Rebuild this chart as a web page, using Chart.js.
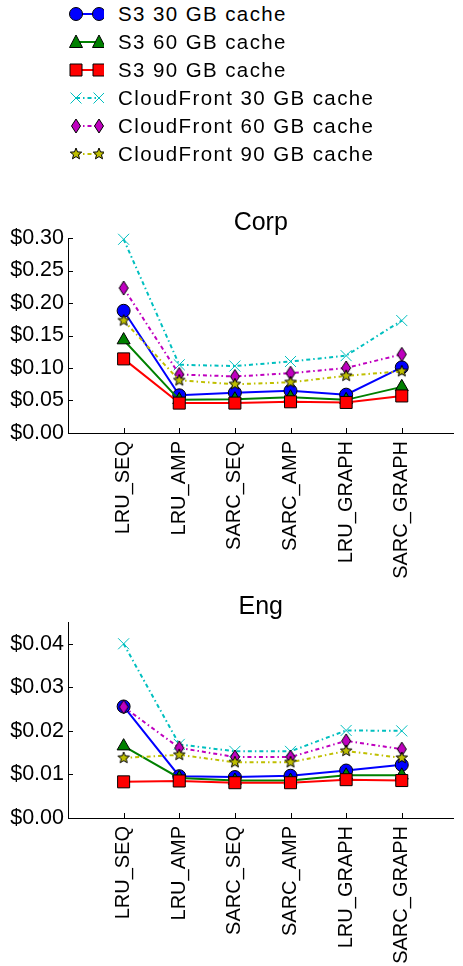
<!DOCTYPE html>
<html>
<head>
<meta charset="utf-8">
<script src="https://cdn.jsdelivr.net/npm/chart.js@4.4.1/dist/chart.umd.min.js"></script>
<style>
  body { margin: 0; background: #fff; width: 463px; height: 966px; overflow: hidden;
         font-family: "Liberation Sans", Arial, sans-serif; position: relative; }
  .row { position: absolute; left: 68px; height: 28px; display: flex; align-items: center;
         font-size: 20.5px; letter-spacing: 1.4px; color: #000; white-space: nowrap; }
  .row canvas { margin-right: 14px; }
  .box { position: absolute; left: 0; width: 463px; }
</style>
</head>
<body>
<div id="legend"></div>
<div class="box" style="top:190px;height:400px"><canvas id="corp" width="463" height="400"></canvas></div>
<div class="box" style="top:590px;height:376px"><canvas id="eng" width="463" height="376"></canvas></div>
<script>
// data
const categories = ["LRU_SEQ", "LRU_AMP", "SARC_SEQ", "SARC_AMP", "LRU_GRAPH", "SARC_GRAPH"]
const seriesNames = ["S3 30 GB cache", "S3 60 GB cache", "S3 90 GB cache",
  "CloudFront 30 GB cache", "CloudFront 60 GB cache", "CloudFront 90 GB cache"]

const corpS3_30 = [0.188, 0.058, 0.062, 0.065, 0.059, 0.101]
const corpS3_60 = [0.143, 0.051, 0.052, 0.055, 0.051, 0.071]
const corpS3_90 = [0.114, 0.046, 0.046, 0.048, 0.047, 0.057]
const corpCF30 = [0.298, 0.105, 0.103, 0.110, 0.119, 0.173]
const corpCF60 = [0.223, 0.090, 0.087, 0.092, 0.100, 0.121]
const corpCF90 = [0.173, 0.081, 0.075, 0.078, 0.088, 0.095]

const engS3_30 = [0.0256, 0.0096, 0.0094, 0.0097, 0.0109, 0.0122]
const engS3_60 = [0.0165, 0.0092, 0.0086, 0.0086, 0.0098, 0.0098]
const engS3_90 = [0.0083, 0.0085, 0.0081, 0.0081, 0.0088, 0.0086]
const engCF30 = [0.0400, 0.0169, 0.0153, 0.0153, 0.0201, 0.0200]
const engCF60 = [0.0255, 0.0161, 0.0140, 0.0140, 0.0177, 0.0158]
const engCF90 = [0.0138, 0.0145, 0.0128, 0.0128, 0.0154, 0.0138]

const corpTicks = [0, 0.05, 0.10, 0.15, 0.20, 0.25, 0.30]
const engTicks = [0, 0.01, 0.02, 0.03, 0.04]

// matplotlib-ish styles
const styles = [
  { color: "#0000ff", marker: "circle", dash: [] },
  { color: "#008000", marker: "triangle", dash: [] },
  { color: "#ff0000", marker: "square", dash: [] },
  { color: "#00bfbf", marker: "x", dash: [4, 3, 1.5, 3] },
  { color: "#bf00bf", marker: "thin_diamond", dash: [4, 3, 1.5, 3] },
  { color: "#bfbf00", marker: "star", dash: [4, 3, 1.5, 3] },
]

function drawMarker(ctx, kind, x, y, fill) {
  ctx.save()
  ctx.fillStyle = fill
  ctx.strokeStyle = "#000"
  ctx.lineWidth = 1
  ctx.setLineDash([])
  ctx.beginPath()
  if (kind === "circle") {
    ctx.arc(x, y, 6.5, 0, Math.PI * 2)
  } else if (kind === "triangle") {
    ctx.moveTo(x, y - 7); ctx.lineTo(x + 6.5, y + 5.5); ctx.lineTo(x - 6.5, y + 5.5); ctx.closePath()
  } else if (kind === "square") {
    ctx.rect(x - 6, y - 6, 12, 12)
  } else if (kind === "thin_diamond") {
    ctx.moveTo(x, y - 7); ctx.lineTo(x + 4.5, y); ctx.lineTo(x, y + 7); ctx.lineTo(x - 4.5, y); ctx.closePath()
  } else if (kind === "star") {
    for (let k = 0; k < 10; k++) {
      const r = k % 2 === 0 ? 6 : 2.6
      const a = -Math.PI / 2 + k * Math.PI / 5
      const px = x + r * Math.cos(a), py = y + r * Math.sin(a)
      k === 0 ? ctx.moveTo(px, py) : ctx.lineTo(px, py)
    }
    ctx.closePath()
  } else if (kind === "x") {
    ctx.strokeStyle = fill
    ctx.moveTo(x - 5.5, y - 5.5); ctx.lineTo(x + 5.5, y + 5.5)
    ctx.moveTo(x + 5.5, y - 5.5); ctx.lineTo(x - 5.5, y + 5.5)
    ctx.stroke()
    ctx.restore()
    return
  }
  ctx.fill()
  ctx.stroke()
  ctx.restore()
}

function markerCanvas(kind, fill) {
  const c = document.createElement("canvas")
  c.width = 18; c.height = 18
  drawMarker(c.getContext("2d"), kind, 9, 9, fill)
  return c
}

// legend
const legend = document.getElementById("legend")
seriesNames.forEach((name, i) => {
  const st = styles[i]
  const row = document.createElement("div")
  row.className = "row"
  row.style.top = (i * 28) + "px"
  const c = document.createElement("canvas")
  c.width = 36; c.height = 28
  const ctx = c.getContext("2d")
  ctx.strokeStyle = st.color
  ctx.lineWidth = 2
  ctx.setLineDash(st.dash)
  ctx.beginPath(); ctx.moveTo(8, 14); ctx.lineTo(31, 14); ctx.stroke()
  drawMarker(ctx, st.marker, 8, 14, st.color)
  drawMarker(ctx, st.marker, 31, 14, st.color)
  row.appendChild(c)
  row.appendChild(document.createTextNode(name))
  legend.appendChild(row)
})

Chart.defaults.font.family = "'Liberation Sans', Arial, sans-serif"
Chart.defaults.color = "#000"

const inwardTicks = {
  id: "inwardTicks",
  afterDraw(chart) {
    const { ctx, chartArea, scales } = chart
    ctx.save()
    ctx.strokeStyle = "#000"
    ctx.lineWidth = 1
    scales.x.ticks.forEach(t => {
      const px = Math.round(scales.x.getPixelForValue(t.value)) + 0.5
      ctx.beginPath(); ctx.moveTo(px, chartArea.bottom); ctx.lineTo(px, chartArea.bottom - 5); ctx.stroke()
    })
    scales.y.ticks.forEach(t => {
      const py = Math.round(scales.y.getPixelForValue(t.value)) + 0.5
      ctx.beginPath(); ctx.moveTo(chartArea.left, py); ctx.lineTo(chartArea.left + 5, py); ctx.stroke()
    })
    ctx.restore()
  }
}

function makeChart(id, title, series, yMax, yTicks, titlePad, xHeight) {
  const datasets = series.map((vals, i) => {
    const st = styles[i]
    let pointStyle = st.marker, radius = 6.5
    if (st.marker === "square") { pointStyle = "rect"; radius = 8.5 }
    if (st.marker === "triangle") { radius = 7.5 }
    if (st.marker === "x") { pointStyle = "crossRot"; radius = 7.8 }
    if (st.marker === "thin_diamond" || st.marker === "star") pointStyle = markerCanvas(st.marker, st.color)
    return {
      label: seriesNames[i],
      data: vals.map((v, k) => ({ x: k, y: v })),
      borderColor: st.color,
      borderWidth: 2,
      borderDash: st.dash,
      pointStyle: pointStyle,
      pointRadius: radius,
      pointBackgroundColor: st.color,
      pointBorderColor: st.marker === "x" ? st.color : "#000",
      pointBorderWidth: 1,
      tension: 0,
      clip: false,
      order: 5 - i,
    }
  })

  return new Chart(document.getElementById(id), {
    type: "line",
    data: { datasets },
    plugins: [inwardTicks],
    options: {
      responsive: false,
      animation: false,
      layout: { padding: 0 },
      plugins: {
        legend: { display: false },
        tooltip: { enabled: false },
        title: { display: true, text: title, fullSize: false, font: { size: 25, weight: "normal" },
                 padding: titlePad },
      },
      scales: {
        x: {
          type: "linear",
          min: -1, max: 5.93,
          afterBuildTicks: s => { s.ticks = categories.map((c, k) => ({ value: k })) },
          afterFit: s => { s.height = xHeight },
          grid: { display: false, drawTicks: false },
          border: { color: "#000", width: 1 },
          ticks: { callback: v => categories[v], minRotation: 90, maxRotation: 90,
                   font: { size: 20 }, padding: 8, autoSkip: false },
        },
        y: {
          min: 0, max: yMax,
          afterBuildTicks: s => { s.ticks = yTicks.map(v => ({ value: v })) },
          afterFit: s => { s.width = 68 },
          grid: { display: false, drawTicks: false },
          border: { color: "#000", width: 1 },
          ticks: { callback: v => "$" + v.toFixed(2), font: { size: 21.5 }, padding: 4 },
        },
      },
    },
  })
}

makeChart("corp", "Corp", [corpS3_30, corpS3_60, corpS3_90, corpCF30, corpCF60, corpCF90],
  0.30, corpTicks, { top: 18, bottom: 0 }, 157)
makeChart("eng", "Eng", [engS3_30, engS3_60, engS3_90, engCF30, engCF60, engCF90],
  0.045, engTicks, { top: 2, bottom: 0 }, 148)
</script>
</body>
</html>
